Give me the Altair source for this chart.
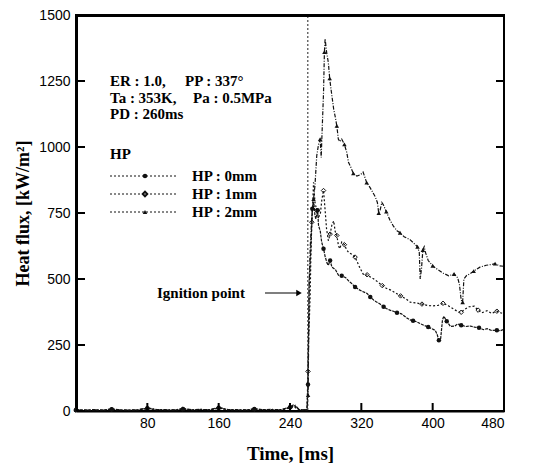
import altair as alt
import pandas as pd

# ---------------- data ----------------
base_x = [0, 10, 20, 30, 40, 50, 60, 70, 80, 90, 100, 110, 120, 130, 140, 150,
          160, 170, 180, 190, 200, 210, 220, 230, 240, 245, 250, 259]

hp2_base = [4, 3, 5, 3, 8, 4, 3, 5, 12, 6, 5, 4, 9, 5, 6, 5, 14, 6, 5, 4, 8, 5, 6, 5, 16, 25, 6, 4]
hp1_base = [3, 2, 4, 2, 6, 3, 2, 4, 10, 4, 4, 3, 7, 3, 5, 4, 11, 5, 4, 3, 6, 4, 5, 3, 12, 15, 5, 3]
hp0_base = [5, 3, 4, 3, 7, 4, 3, 4, 10, 5, 4, 3, 8, 4, 6, 4, 12, 5, 4, 3, 8, 5, 5, 4, 14, 20, 5, 3]

hp2_x = [260.3, 261.5, 262.6, 264.5, 266.4, 268, 270, 272, 273.8, 275, 275.7, 277.6, 278.6, 279.4,
         281, 283, 284.5, 286, 289, 291, 292.5, 294.2, 296, 298, 301, 303.6, 305.6, 308, 311, 315,
         319, 322, 326, 330, 335.5, 338, 339.5, 341, 343, 344.7, 348, 352, 356, 360, 363.4, 368,
         374.6, 379, 383, 385, 386, 387.5, 389, 390.5, 392, 395, 400, 406, 412, 418, 424, 428,
         430, 432, 433.6, 435, 438, 442, 446, 453, 460, 466, 470, 475, 480]
hp2_y = [60, 463, 615, 740, 803, 854, 967, 1010, 1030, 960, 1030, 1206, 1360, 1410,
         1360, 1320, 1260, 1219, 1143, 1110, 1080, 1030, 1020, 1030, 1010, 980, 942, 925, 900, 890,
         895, 905, 865, 845, 812, 790, 750, 760, 790, 781, 755, 724, 700, 683, 675, 660,
         649, 635, 622, 600, 500, 540, 610, 622, 600, 570, 550, 535, 522, 512, 519, 505,
         480, 420, 412, 500, 513, 520, 530, 545, 552, 555, 558, 550, 548]

hp1_x = [260.2, 261, 262.6, 263.5, 264.5, 265.5, 266.4, 268, 270, 272, 274, 275.7, 277.6, 279.4,
         281, 283, 285, 287, 289, 290.7, 292.5, 294.4, 296, 298, 301, 303.6, 306, 310, 313, 318,
         322, 324.3, 326.5, 330, 334, 338, 343.5, 348, 353, 358, 364, 370, 375, 382, 388, 394,
         400, 406, 411.6, 418, 424, 429, 432, 436, 441, 446.7, 451, 455, 461, 466, 472, 476, 480]
hp1_y = [150, 275, 438, 600, 715, 785, 866, 790, 760, 735, 745, 800, 835, 760,
         690, 645, 670, 705, 720, 680, 665, 625, 615, 640, 630, 610, 600, 592, 583, 545,
         519, 514, 516, 508, 500, 490, 475, 465, 458, 448, 436, 425, 412, 409, 405, 400,
         398, 400, 408, 398, 385, 375, 374, 385, 395, 397, 382, 372, 380, 370, 378, 372, 370]

hp0_x = [260.2, 260.6, 261.5, 263.4, 265, 266.7, 268, 269, 271, 272, 274, 275.5, 277.6, 279.4,
         281.6, 283, 285, 287, 291, 294.4, 298, 302.5, 306, 309.5, 313, 317, 322, 326.5, 330,
         334, 337, 341, 345, 348, 352, 356, 360, 365, 370, 374.6, 378, 382, 386.7, 390, 395,
         399, 403, 405, 407, 409, 411, 412.5, 415.8, 420, 425, 428, 432, 437, 442, 447, 452,
         457, 461, 466, 472, 476, 480]
hp0_y = [100, 270, 489, 615, 766, 790, 740, 728, 760, 703, 680, 640, 615, 585,
         560, 552, 570, 545, 535, 514, 512, 505, 492, 482, 470, 460, 452, 445, 432,
         420, 413, 405, 395, 388, 382, 378, 372, 368, 355, 345, 342, 338, 330, 325, 318,
         312, 305, 290, 268, 275, 345, 359, 340, 320, 322, 330, 325, 320, 322, 318, 315,
         308, 312, 305, 306, 304, 310]

series_names = ["HP : 0mm", "HP : 1mm", "HP : 2mm"]
ignition_time = [260]
x_ticks = [80, 160, 240, 320, 400, 480]
y_ticks = [0, 250, 500, 750, 1000, 1250, 1500]

info_left = ["ER : 1.0,", "Ta : 353K,", "PD : 260ms"]
info_right = ["PP : 337°", "Pa : 0.5MPa", ""]

# ---------------- build table ----------------
rows = []
for name, bx, by, px, py in [
    (series_names[0], base_x, hp0_base, hp0_x, hp0_y),
    (series_names[1], base_x, hp1_base, hp1_x, hp1_y),
    (series_names[2], base_x, hp2_base, hp2_x, hp2_y),
]:
    xs = bx + px
    ys = by + py
    for i, (xv, yv) in enumerate(zip(xs, ys)):
        rows.append({"series": name, "t": xv, "q": yv, "mark": (i % 4 == 0)})
df = pd.DataFrame(rows)

W, H = 428, 396
SERIF = "Liberation Serif"
SANS = "Liberation Sans"

xscale = alt.Scale(domain=[0, 480], nice=False, zero=False)
yscale = alt.Scale(domain=[0, 1500], nice=False)

x_axis = alt.Axis(values=x_ticks, ticks=False, domain=True, domainColor="black",
                  domainWidth=2, grid=False, format="d",
                  labelFont=SANS, labelFontSize=14, labelColor="black",
                  labelPadding=5, title="Time, [ms]", titleFont=SERIF,
                  titleFontSize=19, titleFontWeight="bold", titleColor="black",
                  titlePadding=14)
y_axis = alt.Axis(values=y_ticks, ticks=False, domain=True, domainColor="black",
                  domainWidth=2, grid=False, format="d",
                  labelFont=SANS, labelFontSize=14, labelColor="black",
                  labelPadding=6, title="Heat flux, [kW/m²]", titleFont=SERIF,
                  titleFontSize=18, titleFontWeight="bold", titleColor="black",
                  titlePadding=6)
X = alt.X("t:Q", scale=xscale, axis=x_axis)
Y = alt.Y("q:Q", scale=yscale, axis=y_axis)

dashes = {series_names[0]: [3, 1], series_names[1]: [2, 2], series_names[2]: [4, 1.5, 1, 1.5]}
shapes = {series_names[0]: "circle", series_names[1]: "diamond", series_names[2]: "triangle-up"}
filled = {series_names[0]: True, series_names[1]: False, series_names[2]: True}

layers = []
for k, name in enumerate(series_names):
    sub = df[df.series == name]
    layers.append(
        alt.Chart(sub).mark_line(color="#111", strokeWidth=1.2, strokeDash=dashes[name]).encode(
            x=X, y=Y)
    )
    mk = sub[sub["mark"]]
    layers.append(
        alt.Chart(mk).mark_point(shape=shapes[name], filled=filled[name], size=20,
                                 color="#111", strokeWidth=1, opacity=1).encode(x=X, y=Y)
    )

# vertical ignition line
ign = alt.Chart(pd.DataFrame({"t": ignition_time})).mark_rule(
    color="#222", strokeWidth=1, strokeDash=[2, 2]).encode(
    x=X, y=alt.value(1), y2=alt.value(H))

# frame as rules (top and right; left/bottom come from axis domains)
one_row = pd.DataFrame({"a": [1]})
frame = [
    alt.Chart(one_row).mark_rule(color="black", strokeWidth=2).encode(
        x=alt.value(W), y=alt.value(1), y2=alt.value(H)),
    alt.Chart(one_row).mark_rule(color="black", strokeWidth=2).encode(
        y=alt.value(1), x=alt.value(1), x2=alt.value(W)),
    alt.Chart(one_row).mark_rule(color="black", strokeWidth=2).encode(
        x=alt.value(1), y=alt.value(1), y2=alt.value(H)),
]

# inward ticks
ytdf = pd.DataFrame({"q": y_ticks})
xtdf = pd.DataFrame({"t": x_ticks})
tick_left = alt.Chart(ytdf).mark_rule(color="black", strokeWidth=2).encode(
    y=Y, x=alt.value(1), x2=alt.value(9))
tick_right = alt.Chart(ytdf).mark_rule(color="black", strokeWidth=2).encode(
    y=Y, x=alt.value(W - 8), x2=alt.value(W))
tick_bottom = alt.Chart(xtdf).mark_rule(color="black", strokeWidth=2).encode(
    x=X, y=alt.value(H - 8), y2=alt.value(H))


def text_at(txt, x, y, size=15, align="left"):
    return alt.Chart(pd.DataFrame({"txt": [txt]})).mark_text(
        font=SERIF, fontSize=size, fontWeight="bold", align=align, baseline="middle",
        color="black").encode(text="txt:N", x=alt.value(x), y=alt.value(y))


info_rows_y = [66, 83, 99]
info_right_x = [109, 117, 0]
texts = []
for i in range(3):
    texts.append(text_at(info_left[i], 34, info_rows_y[i]))
    if info_right[i]:
        texts.append(text_at(info_right[i], info_right_x[i], info_rows_y[i]))
texts.append(text_at("HP", 34, 139))

# legend
leg_rows_y = [161, 179, 197]
leg_layers = []
for i, name in enumerate(series_names):
    one = pd.DataFrame({"series": [name]})
    leg_layers.append(alt.Chart(one).mark_rule(color="#111", strokeWidth=1,
                                               strokeDash=[2, 2]).encode(
        y=alt.value(leg_rows_y[i]), x=alt.value(34), x2=alt.value(101)))
    leg_layers.append(alt.Chart(one).mark_point(shape=shapes[name], filled=filled[name],
                                                size=20, color="#111", opacity=1).encode(
        y=alt.value(leg_rows_y[i]), x=alt.value(69)))
    leg_layers.append(alt.Chart(one).mark_text(font=SERIF, fontSize=15, fontWeight="bold",
                                               align="left", baseline="middle",
                                               color="black").encode(
        text="series:N", x=alt.value(116), y=alt.value(leg_rows_y[i])))

# ignition annotation
ign_text = text_at("Ignition point", 81, 278, size=15)
arrow_line = alt.Chart(one_row).mark_rule(color="black", strokeWidth=1.2).encode(
    x=alt.value(189), x2=alt.value(222), y=alt.value(278))
arrow_head = alt.Chart(one_row).mark_point(
    shape="triangle-right", filled=True, size=40, color="black", opacity=1).encode(
    x=alt.value(223), y=alt.value(278))

chart = alt.layer(
    *layers, ign, *frame, tick_left, tick_right, tick_bottom, *texts, *leg_layers,
    ign_text, arrow_line, arrow_head
).properties(
    width=W, height=H,
    autosize=alt.AutoSizeParams(type="none"),
    padding={"left": 68, "top": 7, "right": 24, "bottom": 54},
    background="white",
).configure_view(stroke="black", strokeWidth=2)

chart.save("out.html", embed_options={"renderer": "svg", "actions": False})
